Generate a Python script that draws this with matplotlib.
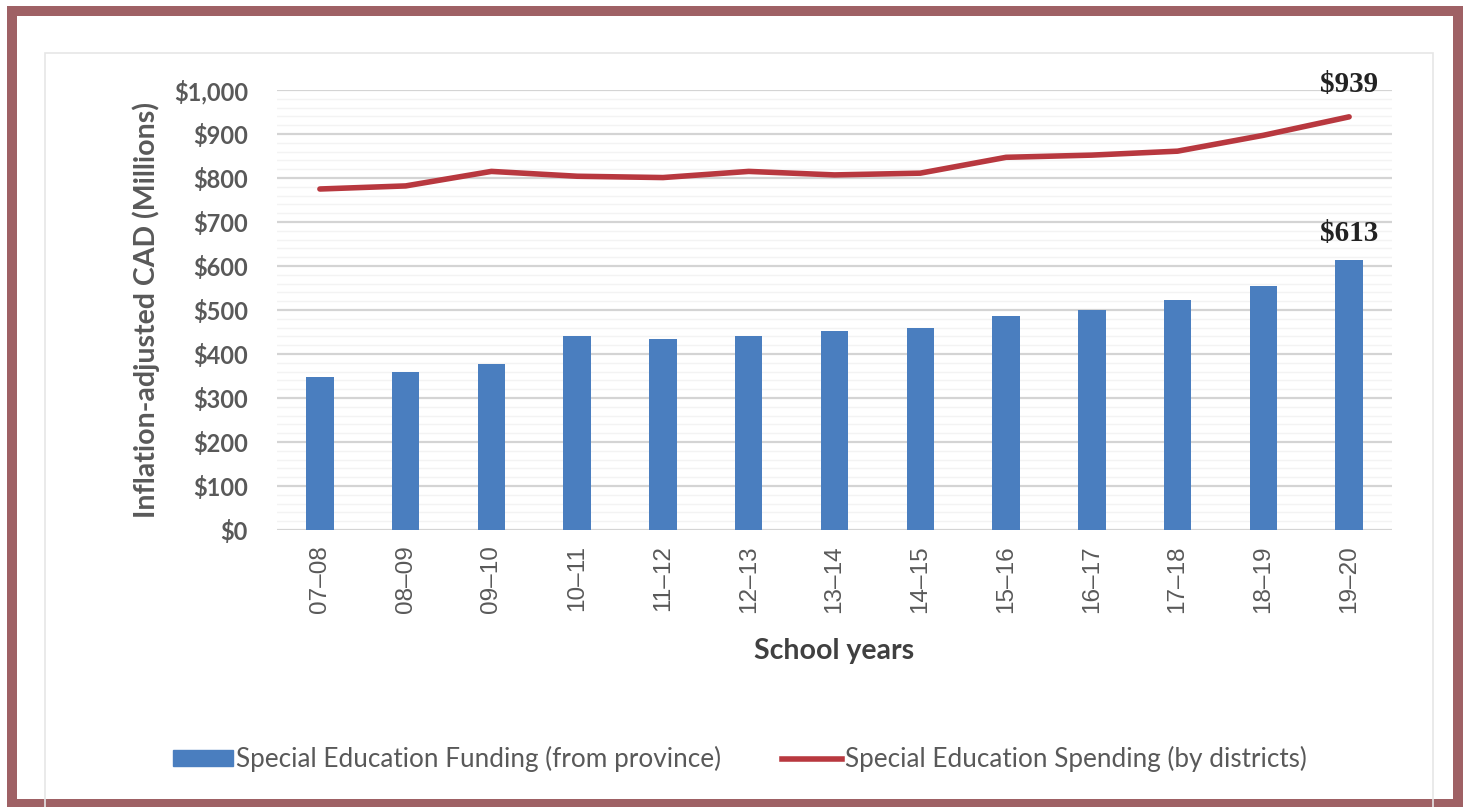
import matplotlib.pyplot as plt
from matplotlib.ticker import MultipleLocator, FuncFormatter
from matplotlib.patches import Rectangle
from matplotlib.lines import Line2D

# data (millions of CAD, inflation adjusted)
years = ['07–08', '08–09', '09–10', '10–11', '11–12', '12–13', '13–14',
         '14–15', '15–16', '16–17', '17–18', '18–19', '19–20']
funding = [347, 359, 378, 441, 434, 442, 452, 460, 486, 499, 523, 554, 613]
spending = [775, 782, 815, 804, 801, 815, 807, 811, 847, 852, 861, 897, 939]

BLUE = '#4a7ebf'
RED = '#b8383f'
GREY = '#595959'
SANS = 'Lato'

fig = plt.figure(figsize=(14.66, 8.07), dpi=100)
fig.patch.set_facecolor('white')

# maroon picture frame and faint inner chart box
fig.patches.append(Rectangle((12 / 1466, 3.5 / 807), 1445.5 / 1466, 792.5 / 807,
                             transform=fig.transFigure, fill=False,
                             edgecolor='#9f6165', linewidth=7.2))
fig.patches.append(Rectangle((45 / 1466, -0.05), 1388 / 1466, 1 - 53 / 807 + 0.05,
                             transform=fig.transFigure, fill=False,
                             edgecolor='#e6e6e6', linewidth=1.2))

ax = fig.add_axes([277 / 1466, 1 - 530 / 807, 1115 / 1466, 440 / 807])
x = list(range(len(years)))

ax.bar(x, funding, width=0.32, color=BLUE, zorder=3)
ax.plot(x, spending, color=RED, linewidth=4, solid_capstyle='round', zorder=4)

ax.set_xlim(-0.5, len(years) - 0.5)
ax.set_ylim(0, 1000)
ax.yaxis.set_major_locator(MultipleLocator(100))
ax.yaxis.set_minor_locator(MultipleLocator(20))
ax.yaxis.set_major_formatter(FuncFormatter(lambda v, p: '${:,.0f}'.format(v)))
ax.grid(axis='y', which='major', color='#d4d4d4', linewidth=1.6, zorder=0)
ax.grid(axis='y', which='minor', color='#f3f3f3', linewidth=1.0, zorder=0)
for s in ax.spines.values():
    s.set_visible(False)

ax.set_xticks(x)
ax.set_xticklabels(years, rotation=90, fontsize=17.5, color=GREY,
                   family='Liberation Sans')
ax.tick_params(axis='both', which='both', length=0)
ax.tick_params(axis='x', pad=11)
ax.tick_params(axis='y', pad=21)
for lab in ax.get_yticklabels():
    lab.set_fontsize(17)
    lab.set_fontweight('bold')
    lab.set_color(GREY)
    lab.set_family(SANS)

ax.set_ylabel('Inflation-adjusted CAD (Millions)', fontsize=20.5, fontweight='bold',
              color=GREY, family=SANS, labelpad=10)
ax.set_xlabel('School years', fontsize=20.5, fontweight='bold', color='#404040',
              family=SANS, labelpad=18)

# end-of-series labels
ax.annotate('${:,.0f}'.format(spending[-1]), (x[-1], spending[-1]),
            xytext=(0, 18), textcoords='offset points', ha='center', va='baseline',
            fontsize=21, fontweight='bold', family='Liberation Serif', color='#222222')
ax.annotate('${:,.0f}'.format(funding[-1]), (x[-1], funding[-1]),
            xytext=(0, 14), textcoords='offset points', ha='center', va='baseline',
            fontsize=21, fontweight='bold', family='Liberation Serif', color='#222222')

handles = [Rectangle((0, 0), 1, 1, color=BLUE),
           Line2D([], [], color=RED, linewidth=4)]
fig.legend(handles, ['Special Education Funding (from province)',
                     'Special Education Spending (by districts)'],
           loc='center', bbox_to_anchor=(740 / 1466, 1 - 759 / 807), ncol=2,
           frameon=False, handlelength=2.3, handleheight=0.55, handletextpad=0.12,
           columnspacing=2.35, prop={'family': SANS, 'size': 18.8}, labelcolor=GREY)

fig.savefig('out.png', dpi=100)
